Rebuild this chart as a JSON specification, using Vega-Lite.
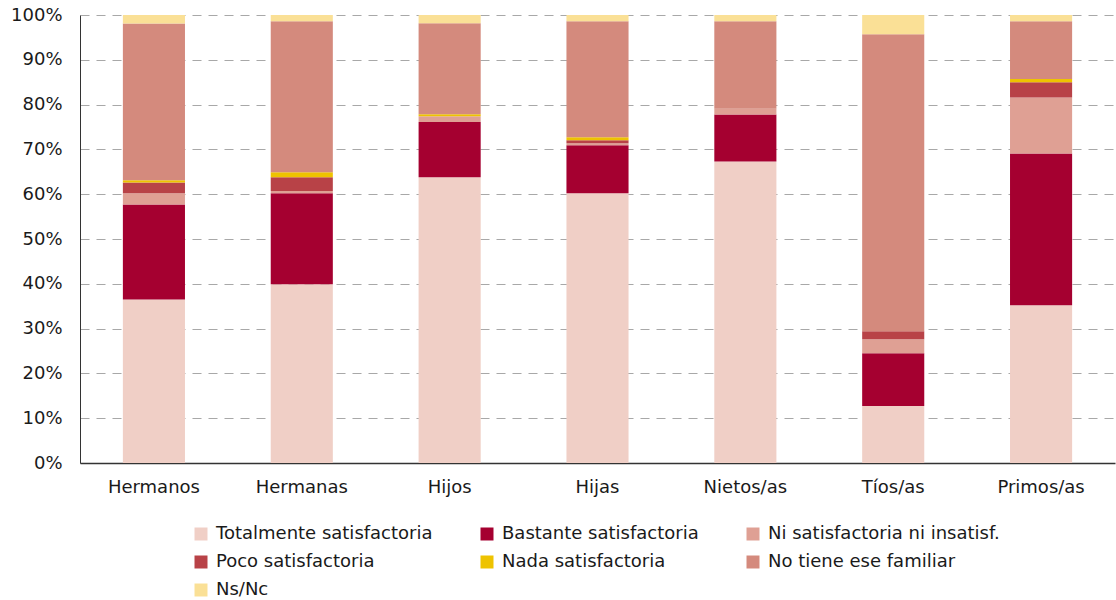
{
  "$schema": "https://vega.github.io/schema/vega-lite/v6.json",
  "width": 1035,
  "height": 448,
  "autosize": {"type": "none"},
  "padding": {"left": 80, "top": 15, "right": 1, "bottom": 137},
  "background": "white",
  "config": {
    "view": {"stroke": null},
    "font": "DejaVu Sans",
    "axis": {"labelFont": "DejaVu Sans", "labelFontSize": 18, "labelColor": "#1a1a1a", "titleFontSize": 18}
  },
  "data": {
    "values": [
      {"cat": "Hermanos", "resp": "Totalmente satisfactoria", "v": 36.5},
      {"cat": "Hermanos", "resp": "Bastante satisfactoria", "v": 21.2},
      {"cat": "Hermanos", "resp": "Ni satisfactoria ni insatisf.", "v": 2.5},
      {"cat": "Hermanos", "resp": "Poco satisfactoria", "v": 2.4},
      {"cat": "Hermanos", "resp": "Nada satisfactoria", "v": 0.5},
      {"cat": "Hermanos", "resp": "No tiene ese familiar", "v": 35.0},
      {"cat": "Hermanos", "resp": "Ns/Nc", "v": 1.9},
      {"cat": "Hermanas", "resp": "Totalmente satisfactoria", "v": 39.9},
      {"cat": "Hermanas", "resp": "Bastante satisfactoria", "v": 20.3},
      {"cat": "Hermanas", "resp": "Ni satisfactoria ni insatisf.", "v": 0.5},
      {"cat": "Hermanas", "resp": "Poco satisfactoria", "v": 3.1},
      {"cat": "Hermanas", "resp": "Nada satisfactoria", "v": 1.1},
      {"cat": "Hermanas", "resp": "No tiene ese familiar", "v": 33.7},
      {"cat": "Hermanas", "resp": "Ns/Nc", "v": 1.4},
      {"cat": "Hijos", "resp": "Totalmente satisfactoria", "v": 63.8},
      {"cat": "Hijos", "resp": "Bastante satisfactoria", "v": 12.3},
      {"cat": "Hijos", "resp": "Ni satisfactoria ni insatisf.", "v": 1.3},
      {"cat": "Hijos", "resp": "Poco satisfactoria", "v": 0.0},
      {"cat": "Hijos", "resp": "Nada satisfactoria", "v": 0.45},
      {"cat": "Hijos", "resp": "No tiene ese familiar", "v": 20.3},
      {"cat": "Hijos", "resp": "Ns/Nc", "v": 1.85},
      {"cat": "Hijas", "resp": "Totalmente satisfactoria", "v": 60.2},
      {"cat": "Hijas", "resp": "Bastante satisfactoria", "v": 10.7},
      {"cat": "Hijas", "resp": "Ni satisfactoria ni insatisf.", "v": 0.45},
      {"cat": "Hijas", "resp": "Poco satisfactoria", "v": 0.67},
      {"cat": "Hijas", "resp": "Nada satisfactoria", "v": 0.67},
      {"cat": "Hijas", "resp": "No tiene ese familiar", "v": 25.9},
      {"cat": "Hijas", "resp": "Ns/Nc", "v": 1.4},
      {"cat": "Nietos/as", "resp": "Totalmente satisfactoria", "v": 67.3},
      {"cat": "Nietos/as", "resp": "Bastante satisfactoria", "v": 10.5},
      {"cat": "Nietos/as", "resp": "Ni satisfactoria ni insatisf.", "v": 1.3},
      {"cat": "Nietos/as", "resp": "Poco satisfactoria", "v": 0.0},
      {"cat": "Nietos/as", "resp": "Nada satisfactoria", "v": 0.0},
      {"cat": "Nietos/as", "resp": "No tiene ese familiar", "v": 19.5},
      {"cat": "Nietos/as", "resp": "Ns/Nc", "v": 1.4},
      {"cat": "Tíos/as", "resp": "Totalmente satisfactoria", "v": 12.7},
      {"cat": "Tíos/as", "resp": "Bastante satisfactoria", "v": 11.8},
      {"cat": "Tíos/as", "resp": "Ni satisfactoria ni insatisf.", "v": 3.1},
      {"cat": "Tíos/as", "resp": "Poco satisfactoria", "v": 1.8},
      {"cat": "Tíos/as", "resp": "Nada satisfactoria", "v": 0.0},
      {"cat": "Tíos/as", "resp": "No tiene ese familiar", "v": 66.3},
      {"cat": "Tíos/as", "resp": "Ns/Nc", "v": 4.3},
      {"cat": "Primos/as", "resp": "Totalmente satisfactoria", "v": 35.2},
      {"cat": "Primos/as", "resp": "Bastante satisfactoria", "v": 33.9},
      {"cat": "Primos/as", "resp": "Ni satisfactoria ni insatisf.", "v": 12.5},
      {"cat": "Primos/as", "resp": "Poco satisfactoria", "v": 3.4},
      {"cat": "Primos/as", "resp": "Nada satisfactoria", "v": 0.7},
      {"cat": "Primos/as", "resp": "No tiene ese familiar", "v": 12.9},
      {"cat": "Primos/as", "resp": "Ns/Nc", "v": 1.4}
    ]
  },
  "transform": [
    {"calculate": "indexof(['Totalmente satisfactoria', 'Bastante satisfactoria', 'Ni satisfactoria ni insatisf.', 'Poco satisfactoria', 'Nada satisfactoria', 'No tiene ese familiar', 'Ns/Nc'], datum.resp)", "as": "ord"}
  ],
  "mark": {"type": "bar"},
  "encoding": {
    "x": {
      "field": "cat",
      "type": "nominal",
      "sort": null,
      "scale": {"paddingInner": 0.58, "paddingOuter": 0.29},
      "axis": {"title": null, "labelAngle": 0, "ticks": false, "labelPadding": 15, "domainColor": "#333333", "domainWidth": 1.5, "grid": false}
    },
    "y": {
      "field": "v",
      "type": "quantitative",
      "stack": "zero",
      "scale": {"domain": [0, 100], "nice": false},
      "axis": {
        "title": null,
        "values": [0, 10, 20, 30, 40, 50, 60, 70, 80, 90, 100],
        "labelExpr": "datum.value + '%'",
        "ticks": false,
        "labelPadding": 18,
        "domainColor": "#333333",
        "domainWidth": 1,
        "grid": true,
        "gridColor": "#a8a8a8",
        "gridDash": [9, 7],
        "gridWidth": 1.2
      }
    },
    "order": {"field": "ord", "type": "quantitative", "sort": "ascending"},
    "color": {
      "field": "resp",
      "type": "nominal",
      "scale": {
        "domain": ["Totalmente satisfactoria", "Bastante satisfactoria", "Ni satisfactoria ni insatisf.", "Poco satisfactoria", "Nada satisfactoria", "No tiene ese familiar", "Ns/Nc"],
        "range": ["#F0CFC6", "#A50030", "#DFA094", "#B84247", "#EEC300", "#D48A7D", "#FAE096"]
      },
      "legend": {
        "title": null,
        "orient": "none",
        "legendX": 112,
        "legendY": 510,
        "direction": "horizontal",
        "columns": 3,
        "symbolType": "square",
        "symbolSize": 169,
        "symbolStrokeWidth": 0,
        "labelFontSize": 18,
        "labelFont": "DejaVu Sans",
        "labelColor": "#1a1a1a",
        "labelOffset": 6,
        "columnPadding": 45,
        "rowPadding": 10,
        "labelLimit": 400
      }
    }
  }
}
